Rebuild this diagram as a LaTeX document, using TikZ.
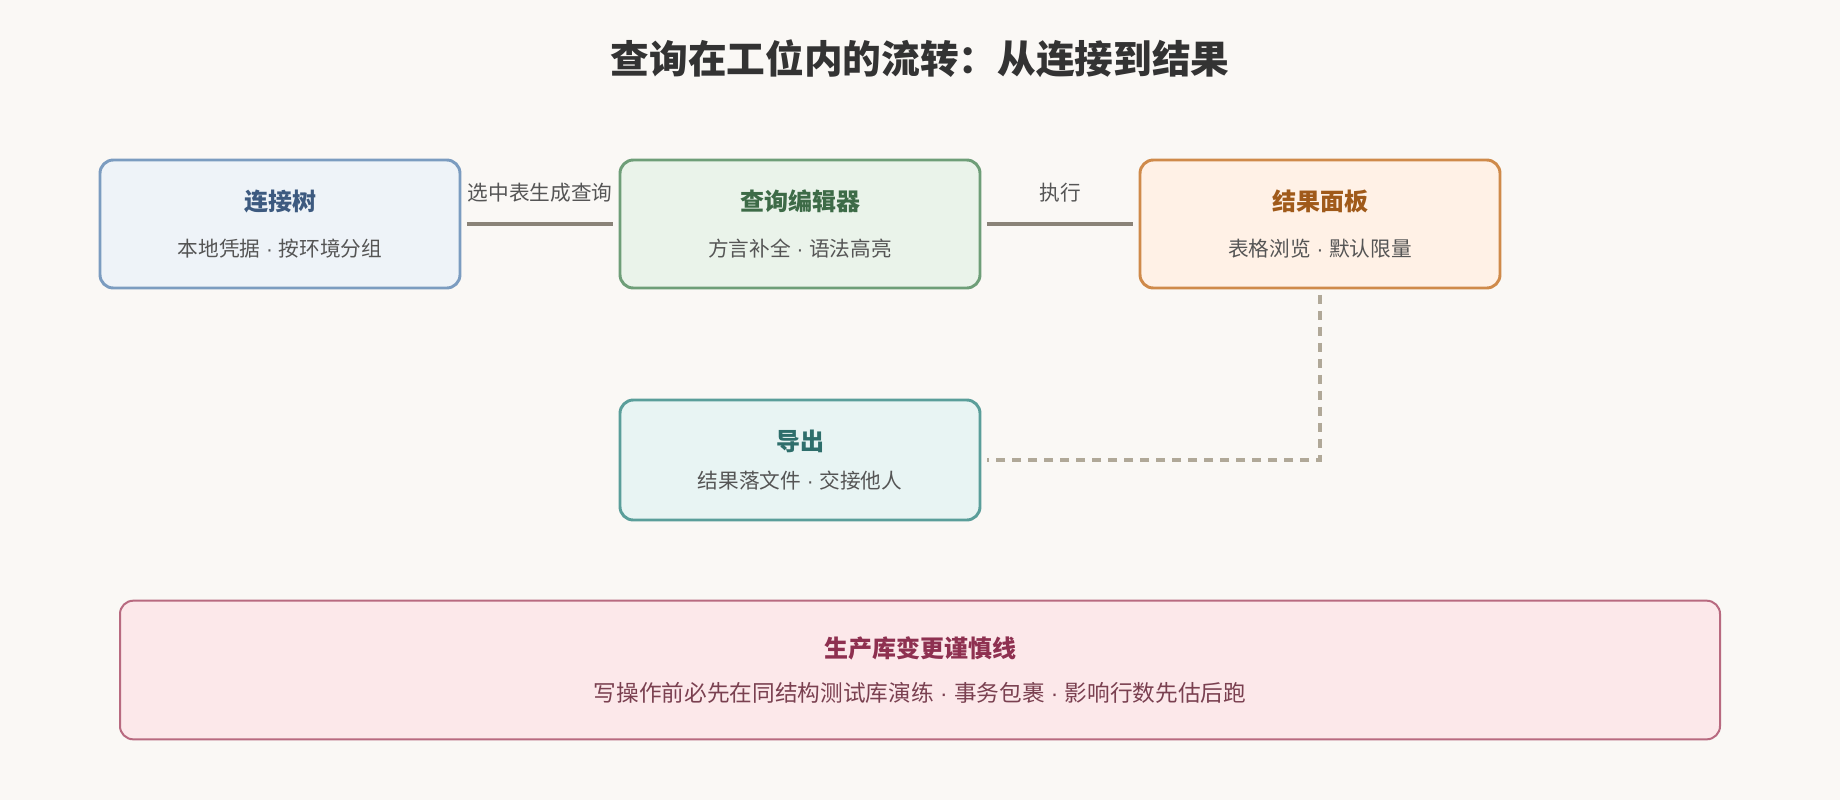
\documentclass[tikz,border=0pt]{standalone}
\usepackage{fontspec}
\setmainfont{Noto Sans CJK SC}
\newfontfamily\latinf{Liberation Sans}
\usetikzlibrary{positioning}
\definecolor{bgc}{HTML}{FAF8F5}
\definecolor{linec}{HTML}{8A8378}
\definecolor{dashc}{HTML}{B0A898}
\definecolor{subc}{HTML}{555555}
\definecolor{connD}{HTML}{7B9CC0}\definecolor{connF}{HTML}{EEF3F8}\definecolor{connT}{HTML}{3D5A80}
\definecolor{editD}{HTML}{6E9E78}\definecolor{editF}{HTML}{EAF3EA}\definecolor{editT}{HTML}{3D6B47}
\definecolor{resD}{HTML}{CF8A4A}\definecolor{resF}{HTML}{FFF1E6}\definecolor{resT}{HTML}{A05A1A}
\definecolor{expD}{HTML}{5A9E9A}\definecolor{expF}{HTML}{E8F4F3}\definecolor{expT}{HTML}{2E6E6B}
\definecolor{warnD}{HTML}{B86A80}\definecolor{warnF}{HTML}{FCE8EA}\definecolor{warnT}{HTML}{8E3050}\definecolor{warnS}{HTML}{7A4050}
\tikzset{
  box/.style={draw,rounded corners=10pt,line width=2.2pt,minimum width=270pt,minimum height=96pt,align=center},
  flow/.style={line width=2.4pt,linec},
  lbl/.style={font=\fontsize{15.5}{18}\selectfont,text=subc}
}
\newcommand{\sep}{{\latinf\ ·\ }}
\newcommand{\boxtext}[4][18pt]{{\fontsize{18}{21}\selectfont\bfseries\color{#2}#3}\\[#1]{\fontsize{15.5}{18}\selectfont\color{subc}#4}}
\begin{document}
\begin{tikzpicture}[x=0.75pt,y=-0.75pt]
\fill[bgc] (0,0) rectangle (1840,800);
\node[font=\fontsize{29}{34}\selectfont\bfseries,text=black!80] (title) at (920,59) {查询在工位内的流转：从连接到结果};
\node[box,draw=connD,fill=connF] (conn) at (280,224) {\boxtext{connT}{连接树}{本地凭据\sep 按环境分组}};
\node[box,draw=editD,fill=editF] (editor) at (800,224) {\boxtext{editT}{查询编辑器}{方言补全\sep 语法高亮}};
\node[box,draw=resD,fill=resF] (result) at (1320,224) {\boxtext{resT}{结果面板}{表格浏览\sep 默认限量}};
\node[box,minimum height=90pt,draw=expD,fill=expF] (export) at (800,460) {\boxtext[13pt]{expT}{导出}{结果落文件\sep 交接他人}};
\node[draw=warnD,line width=1.5pt,rounded corners=10pt,fill=warnF,minimum width=1200pt,minimum height=104pt,align=center] (warn) at (920,670)
  {{\fontsize{18}{21}\selectfont\bfseries\color{warnT}生产库变更谨慎线}\\[16pt]{\fontsize{17}{20}\selectfont\color{warnS}写操作前必先在同结构测试库演练\sep 事务包裹\sep 影响行数先估后跑}};
\draw[flow] ([xshift=4pt]conn.east) -- node[lbl,above=12pt] {选中表生成查询} ([xshift=-4pt]editor.west);
\draw[flow] ([xshift=4pt]editor.east) -- node[lbl,above=12pt] {执行} ([xshift=-4pt]result.west);
\coordinate (bend) at (1320,460);
\draw[dashc,line width=3pt,dash pattern=on 7pt off 5pt] ([yshift=-4pt]result.south) -- (bend) -- ([xshift=4pt]export.east);
\end{tikzpicture}
\end{document}
